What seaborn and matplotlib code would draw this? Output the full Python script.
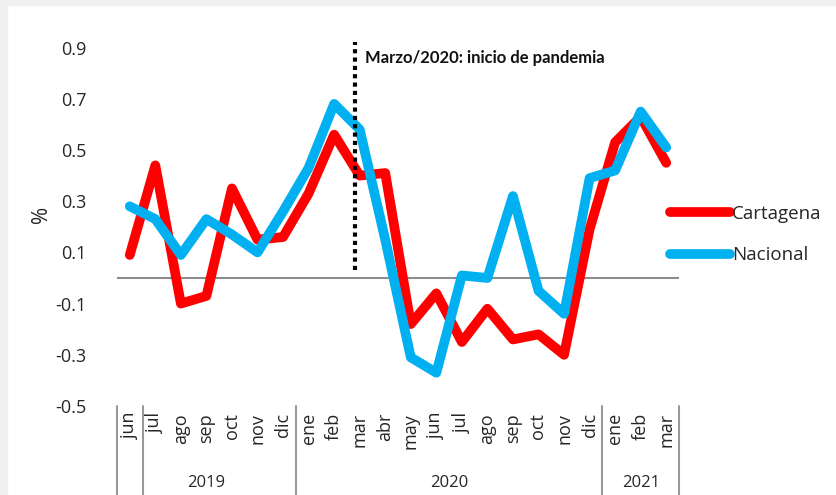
import numpy as np
import pandas as pd
import seaborn as sns
import matplotlib.pyplot as plt
from matplotlib.patches import Rectangle

sns.set_theme(style="white")
plt.rcParams["font.family"] = ["Open Sans", "DejaVu Sans"]

meses = ["jun", "jul", "ago", "sep", "oct", "nov", "dic",
         "ene", "feb", "mar", "abr", "may", "jun", "jul", "ago", "sep", "oct", "nov", "dic",
         "ene", "feb", "mar"]
anios = ["2019"] * 7 + ["2020"] * 12 + ["2021"] * 3
cartagena = [0.09, 0.44, -0.10, -0.07, 0.35, 0.15, 0.16,
             0.33, 0.56, 0.40, 0.41, -0.18, -0.06, -0.25, -0.12, -0.24, -0.22, -0.30, 0.19,
             0.53, 0.63, 0.45]
nacional = [0.28, 0.23, 0.09, 0.23, 0.17, 0.10, 0.26,
            0.43, 0.68, 0.58, 0.15, -0.31, -0.37, 0.01, 0.00, 0.32, -0.05, -0.14, 0.39,
            0.42, 0.65, 0.51]

df = pd.DataFrame({"i": np.arange(len(meses)), "Cartagena": cartagena, "Nacional": nacional})
long = df.melt(id_vars="i", var_name="serie", value_name="valor")

fig = plt.figure(figsize=(8.37, 4.95), dpi=100)
# gray frame remains of the original screenshot
fig.patches.append(Rectangle((0, 0), 7 / 837, 1, transform=fig.transFigure, color="#f0f0f0", zorder=-1))
fig.patches.append(Rectangle((0, 1 - 5 / 495), 1, 5 / 495, transform=fig.transFigure, color="#f0f0f0", zorder=-1))

ax = fig.add_axes([117 / 837, 89 / 495, 562 / 837, 384 / 495])
ax.set_facecolor((0, 0, 0, 0))

sns.lineplot(data=long, x="i", y="valor", hue="serie", ax=ax,
             palette={"Cartagena": "#FF0000", "Nacional": "#00B0F0"},
             linewidth=7, solid_capstyle="round", solid_joinstyle="round")

ax.axhline(0, color="#8c8c8c", lw=1.5, zorder=0)

# pandemia marker
ax.vlines(8.82, 0.03, 0.92, colors="black", linestyles=(0, (1, 1)), lw=3, clip_on=False)
ax.text(9.2, 0.84, "Marzo/2020: inicio de pandemia", fontsize=12, fontweight="bold",
        family=["Lato", "DejaVu Sans"], ha="left", va="baseline", color="#111111")

ax.set_xlim(-0.5, 21.5)
ax.set_ylim(-0.5, 1.0)
ax.set_yticks(np.arange(-0.5, 0.91, 0.2))
ax.set_yticklabels([f"{v:.1f}" for v in np.arange(-0.5, 0.91, 0.2)], fontsize=13)
ax.tick_params(axis="y", length=0, pad=22)
ax.set_xticks(range(len(meses)))
ax.set_xticklabels(meses, rotation=90, fontsize=13)
ax.tick_params(axis="x", length=0, pad=5)
ax.set_xlabel("")
ax.set_ylabel("%", fontsize=15, labelpad=2)
sns.despine(ax=ax, left=True, bottom=True)

# month / year group axis
tr = ax.get_xaxis_transform()
for xs in [-0.5, 0.5, 6.5, 18.5, 21.5]:
    ax.plot([xs, xs], [0.0, -0.235], transform=tr, color="#999999", lw=1.5, clip_on=False)
for anio in ["2019", "2020", "2021"]:
    idx = [k for k, a in enumerate(anios) if a == anio]
    xc = (idx[0] + idx[-1]) / 2
    ax.text(xc, -0.2, anio, transform=tr, ha="center", va="center", fontsize=12)

leg = ax.legend(loc="center left", bbox_to_anchor=(670 / 837, 0.526),
                bbox_transform=fig.transFigure, frameon=False, fontsize=13.5,
                handlelength=3.2, handletextpad=0.1, labelspacing=1.25,
                borderpad=0, borderaxespad=0)
for h in leg.get_lines():
    h.set_linewidth(7)
    h.set_solid_capstyle("round")

fig.savefig("out.png", dpi=100)
